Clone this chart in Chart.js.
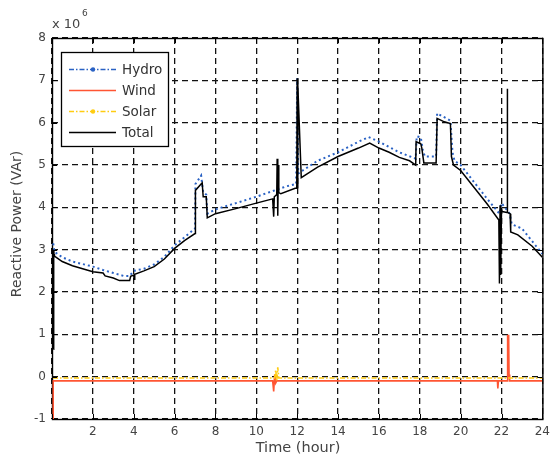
<!DOCTYPE html>
<html>
<head>
<meta charset="utf-8">
<script src="https://cdn.jsdelivr.net/npm/chart.js@4.4.1/dist/chart.umd.min.js"></script>
<style>
  body { margin: 0; background: #fff; }
  canvas { display: block; }
</style>
</head>
<body>
<canvas id="c" width="556" height="457"></canvas>
<script>
// values in units of 10^6 VAr, time in hours
const totalTime = [0.07, 0.07, 0.09, 0.09, 0.1, 0.12, 0.5, 1.0, 1.5, 2.0, 2.5, 2.6, 3.0, 3.3, 3.8, 3.85, 4.0, 4.02, 4.05, 4.5, 5.0, 5.5, 6.0, 6.5, 7.0, 7.02, 7.2, 7.35, 7.4, 7.55, 7.6, 8.0, 9.0, 10.0, 10.8, 10.85, 10.88, 11.0, 11.02, 11.05, 11.08, 11.1, 11.2, 11.9, 11.98, 12.0, 12.02, 12.04, 12.2, 13.0, 14.0, 15.0, 15.55, 16.0, 16.5, 17.0, 17.5, 17.8, 17.82, 18.05, 18.1, 18.2, 18.8, 18.85, 19.2, 19.5, 19.55, 19.65, 20.0, 21.3, 21.87, 21.9, 21.93, 21.96, 22.0, 22.03, 22.27, 22.28, 22.3, 22.42, 22.45, 22.8, 23.5, 24.0];
const totalPower = [0.65, 3.0, 0.7, 3.0, 2.9, 2.85, 2.72, 2.62, 2.55, 2.48, 2.45, 2.38, 2.33, 2.27, 2.27, 2.37, 2.4, 2.3, 2.42, 2.5, 2.6, 2.78, 3.03, 3.22, 3.38, 4.4, 4.5, 4.58, 4.25, 4.25, 3.75, 3.85, 3.97, 4.1, 4.2, 3.78, 4.25, 4.3, 5.15, 3.8, 5.0, 4.35, 4.32, 4.45, 4.45, 7.05, 4.45, 6.9, 4.7, 4.95, 5.2, 5.4, 5.52, 5.4, 5.3, 5.18, 5.1, 5.0, 5.55, 5.5, 5.4, 5.05, 5.05, 6.1, 6.02, 5.98, 5.2, 5.0, 4.87, 4.08, 3.7, 2.2, 4.05, 2.4, 3.95, 3.9, 3.88, 6.8, 3.88, 3.85, 3.42, 3.35, 3.08, 2.82];

const hydroTime = [0.06, 0.12, 0.5, 1.0, 2.0, 2.5, 3.0, 3.5, 3.8, 4.0, 4.5, 5.0, 5.5, 6.0, 6.5, 7.0, 7.02, 7.3, 7.4, 7.55, 7.6, 8.0, 9.0, 10.0, 10.9, 11.5, 11.95, 12.0, 12.05, 13.0, 14.0, 15.0, 15.5, 16.0, 17.0, 17.8, 17.85, 18.05, 18.15, 18.25, 18.8, 18.85, 19.5, 19.6, 19.7, 20.0, 21.3, 21.9, 22.0, 22.4, 22.5, 23.0, 23.5, 24.0];
const hydroPower = [3.15, 2.95, 2.82, 2.72, 2.6, 2.52, 2.45, 2.38, 2.38, 2.5, 2.55, 2.65, 2.83, 3.1, 3.3, 3.5, 4.55, 4.75, 4.35, 4.3, 3.85, 3.95, 4.1, 4.25, 4.4, 4.5, 4.55, 7.05, 4.8, 5.1, 5.3, 5.55, 5.66, 5.55, 5.3, 5.15, 5.68, 5.65, 5.35, 5.2, 5.2, 6.22, 6.05, 5.3, 5.1, 5.0, 4.2, 3.85, 4.1, 3.85, 3.6, 3.5, 3.2, 2.9];

const windTime = [0.05, 0.05, 0.07, 10.8, 10.85, 10.9, 10.95, 11.0, 21.8, 21.82, 21.85, 22.28, 22.3, 22.35, 22.37, 22.4, 24.0];
const windPower = [-1.0, -0.1, -0.1, -0.1, -0.35, 0.05, -0.15, -0.1, -0.1, -0.28, -0.1, -0.1, 0.97, 0.97, 0.05, -0.1, -0.1];

const solarTime = [0.05, 10.9, 10.95, 11.0, 11.05, 11.1, 24.0];
const solarPower = [-0.03, -0.03, 0.15, -0.1, 0.22, -0.03, -0.03];

const xTicks = [0, 2, 4, 6, 8, 10, 12, 14, 16, 18, 20, 22, 24];
const yTicks = [-1, 0, 1, 2, 3, 4, 5, 6, 7, 8];

const seriesNames = ['Hydro', 'Wind', 'Solar', 'Total'];
const seriesColors = ['#2a62c4', '#ff5533', '#ffcc11', '#000000'];

function pts(xs, ys) {
    return xs.map((x, i) => ({ x: x, y: ys[i] }));
}

const FONT = '"DejaVu Sans", sans-serif';

const framePlugin = {
    id: 'frame',
    beforeDatasetsDraw(chart) {
        // solid box under the data so the lines at t=0 stay visible
        const ctx = chart.ctx;
        const a = chart.chartArea;
        ctx.save();
        ctx.strokeStyle = '#000';
        ctx.lineWidth = 1.4;
        ctx.strokeRect(a.left + 0.5, a.top + 0.5, a.right - a.left, a.bottom - a.top);
        ctx.restore();
    },
    afterDraw(chart) {
        const ctx = chart.ctx;
        const a = chart.chartArea;
        const xs = chart.scales.x;
        const ys = chart.scales.y;
        ctx.save();

        // inward tick marks
        ctx.strokeStyle = '#000';
        ctx.lineWidth = 1;
        ctx.beginPath();
        xTicks.forEach(t => {
            const px = Math.round(xs.getPixelForValue(t)) + 0.5;
            ctx.moveTo(px, a.bottom); ctx.lineTo(px, a.bottom - 5);
            ctx.moveTo(px, a.top); ctx.lineTo(px, a.top + 5);
        });
        yTicks.forEach(t => {
            const py = Math.round(ys.getPixelForValue(t)) + 0.5;
            ctx.moveTo(a.left, py); ctx.lineTo(a.left + 5, py);
            ctx.moveTo(a.right, py); ctx.lineTo(a.right - 5, py);
        });
        ctx.stroke();

        // axis titles
        ctx.fillStyle = '#444';
        ctx.textAlign = 'center';
        ctx.textBaseline = 'middle';
        ctx.font = '14.5px ' + FONT;
        ctx.fillText('Time (hour)', 298, 448);
        ctx.save();
        ctx.translate(17, 224);
        ctx.rotate(-Math.PI / 2);
        ctx.font = '14px ' + FONT;
        ctx.fillText('Reactive Power (VAr)', 0, 0);
        ctx.restore();

        // exponent
        ctx.textAlign = 'left';
        ctx.textBaseline = 'alphabetic';
        ctx.font = '13px ' + FONT;
        ctx.fillText('x 10', 52, 28);
        ctx.font = '9px ' + FONT;
        ctx.fillText('6', 82, 16);

        // legend
        const lx = 61, ly = 52, lw = 107, lh = 94;
        ctx.fillStyle = '#fff';
        ctx.fillRect(lx, ly, lw, lh);
        ctx.strokeStyle = '#000';
        ctx.lineWidth = 1.3;
        ctx.strokeRect(lx + 0.5, ly + 0.5, lw, lh);
        const rows = [69, 90, 111, 132];
        const dashes = [[5, 2, 1.5, 2], [], [5, 2, 1.5, 2], []];
        const markers = [true, false, true, false];
        seriesNames.forEach((name, i) => {
            const y = rows[i] + 0.5;
            ctx.strokeStyle = seriesColors[i];
            ctx.lineWidth = 1.5;
            ctx.setLineDash(dashes[i]);
            ctx.beginPath();
            ctx.moveTo(69, y); ctx.lineTo(116, y);
            ctx.stroke();
            ctx.setLineDash([]);
            if (markers[i]) {
                ctx.fillStyle = seriesColors[i];
                ctx.beginPath();
                ctx.arc(93, y, 2.2, 0, Math.PI * 2);
                ctx.fill();
            }
            ctx.fillStyle = '#333';
            ctx.font = '13.5px ' + FONT;
            ctx.textBaseline = 'middle';
            ctx.fillText(name, 122, y + 1);
        });
        ctx.restore();
    }
};

new Chart(document.getElementById('c'), {
    type: 'scatter',
    data: {
        datasets: [
            { label: 'Hydro', data: pts(hydroTime, hydroPower), showLine: true, borderColor: seriesColors[0], borderWidth: 2, borderDash: [2, 3], pointRadius: 0, order: 3 },
            { label: 'Wind', data: pts(windTime, windPower), showLine: true, borderColor: seriesColors[1], borderWidth: 1.6, pointRadius: 0, order: 2 },
            { label: 'Solar', data: pts(solarTime, solarPower), showLine: true, borderColor: seriesColors[2], borderWidth: 1.6, borderDash: [5, 2, 1.5, 2], pointRadius: 0, order: 1 },
            { label: 'Total', data: pts(totalTime, totalPower), showLine: true, borderColor: seriesColors[3], borderWidth: 1.5, pointRadius: 0, order: 0 }
        ]
    },
    options: {
        responsive: false,
        animation: false,
        devicePixelRatio: 1,
        layout: { padding: { top: 38, right: 10, left: 0, bottom: 0 } },
        plugins: { legend: { display: false }, tooltip: { enabled: false } },
        scales: {
            x: {
                type: 'linear',
                min: 0,
                max: 24,
                afterFit: s => { s.height = 38; },
                afterBuildTicks: s => { s.ticks = xTicks.map(v => ({ value: v })); },
                ticks: {
                    padding: 6,
                    color: '#444',
                    font: { family: FONT, size: 12 },
                    callback: v => (v === 0 ? '' : v)
                },
                grid: { color: '#111', lineWidth: 1.3, drawTicks: false },
                border: { display: false, dash: [6, 4] }
            },
            y: {
                type: 'linear',
                min: -1,
                max: 8,
                afterFit: s => { s.width = 52; },
                afterBuildTicks: s => { s.ticks = yTicks.map(v => ({ value: v })); },
                ticks: {
                    padding: 6,
                    color: '#444',
                    font: { family: FONT, size: 12 }
                },
                grid: { color: '#111', lineWidth: 1.3, drawTicks: false },
                border: { display: false, dash: [6, 4] }
            }
        }
    },
    plugins: [framePlugin]
});
</script>
</body>
</html>
